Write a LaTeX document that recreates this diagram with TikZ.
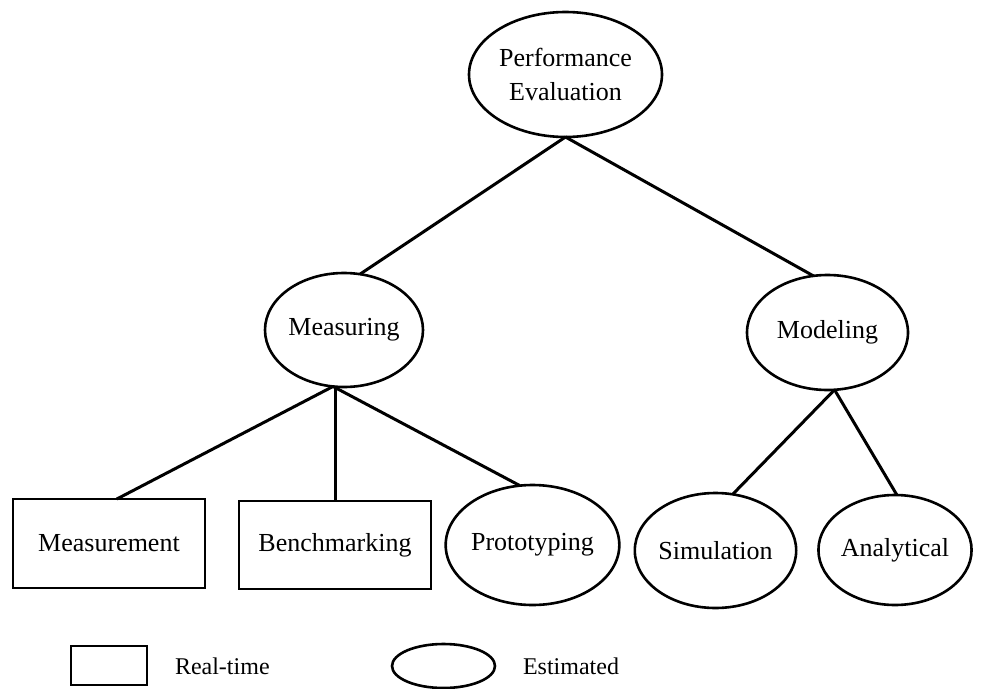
\documentclass[tikz,border=0pt]{standalone}
\usepackage{fontspec}
\setmainfont{Liberation Serif}
\usetikzlibrary{shapes.geometric}
\begin{document}
\begin{tikzpicture}[x=1pt,y=-1pt,
  every node/.style={inner sep=0pt,outer sep=0pt},
  oval/.style={ellipse,draw,line width=2.6pt,font=\fontsize{26}{34}\selectfont,align=center},
  realbox/.style={rectangle,draw,line width=2.2pt,font=\fontsize{26}{34}\selectfont},
  link/.style={line width=3pt},
  legendtext/.style={anchor=west,font=\fontsize{24}{30}\selectfont}]
\useasboundingbox (0,0) rectangle (1001,688);

% hierarchy
\node[oval,minimum width=193pt,minimum height=125pt] (pe) at (565.5,74.5) {Performance\\Evaluation};
\node[oval,minimum width=158pt,minimum height=114pt] (meas) at (344,330) {Measuring};
\node[oval,minimum width=161pt,minimum height=115pt] (mod) at (827.5,332.5) {Modeling};

\node[realbox,minimum width=192pt,minimum height=89pt] (mnt) at (109,543.5) {Measurement};
\node[realbox,minimum width=192pt,minimum height=88pt] (bench) at (335,545) {Benchmarking};
\node[oval,minimum width=143pt,minimum height=120pt] (proto) at (532.5,545) {Prototyping};
\node[oval,minimum width=133pt,minimum height=115pt] (sim) at (715.5,550.5) {Simulation};
\node[oval,minimum width=136pt,minimum height=110pt] (ana) at (895,550) {Analytical};

% connectors
\draw[link] (pe.south) -- (meas.74);
\draw[link] (pe.south) -- (mod.104);
\draw[link] (meas.259) -- (mnt.80);
\draw[link] (bench.north |- meas.south) -- (bench.north);
\draw[link] (meas.259) -- (proto.102);
\draw[link] (mod.-83) -- (sim.73);
\draw[link] (mod.-83) -- (ana.88);

% legend
\node[rectangle,draw,line width=2.2pt,minimum width=76pt,minimum height=39pt] (keybox) at (109,665.5) {};
\node[legendtext] (keyboxtext) at (175,666) {Real-time};
\node[ellipse,draw,line width=2.6pt,minimum width=103pt,minimum height=44pt] (keyoval) at (443.5,666) {};
\node[legendtext] (keyovaltext) at (523,666) {Estimated};
\end{tikzpicture}
\end{document}
